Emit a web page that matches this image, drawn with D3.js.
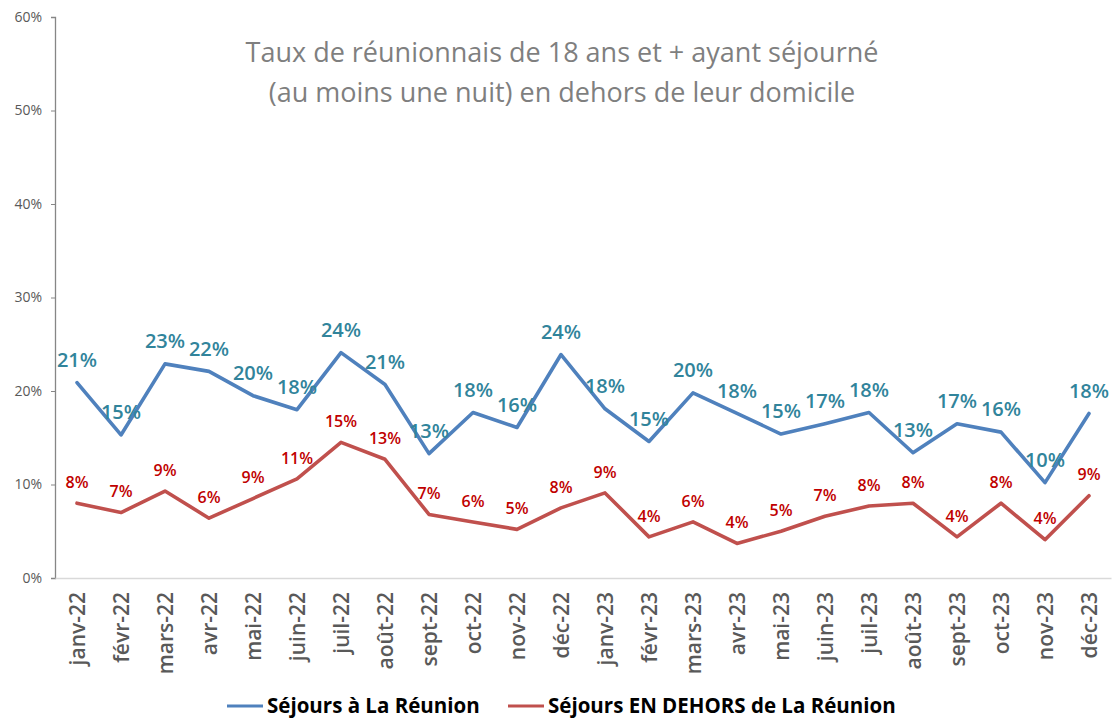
<!DOCTYPE html>
<html><head><meta charset="utf-8">
<script src="https://cdn.jsdelivr.net/npm/d3@7"></script>
<style>body{margin:0;background:#fff}svg{display:block}</style>
</head><body>
<svg id="c" width="1112" height="718"></svg>
<script>
const months = ["janv-22","févr-22","mars-22","avr-22","mai-22","juin-22","juil-22","août-22","sept-22","oct-22","nov-22","déc-22",
  "janv-23","févr-23","mars-23","avr-23","mai-23","juin-23","juil-23","août-23","sept-23","oct-23","nov-23","déc-23"];
const reunion = [20.9,15.3,22.9,22.1,19.5,18.0,24.1,20.7,13.3,17.7,16.1,23.9,18.1,14.6,19.8,17.6,15.4,16.5,17.7,13.4,16.5,15.6,10.2,17.6];
const dehors  = [8.0,7.0,9.3,6.4,8.5,10.6,14.5,12.7,6.8,6.0,5.2,7.5,9.1,4.4,6.0,3.7,5.0,6.6,7.7,8.0,4.4,8.0,4.1,8.8];
const yTicks = [0,10,20,30,40,50,60];
const titleLines = ["Taux de réunionnais de 18 ans et + ayant séjourné","(au moins une nuit) en dehors de leur domicile"];
const seriesNames = ["Séjours à La Réunion","Séjours EN DEHORS de La Réunion"];

const svg = d3.select("#c");
const font = "'Open Sans', sans-serif";
const x = d3.scalePoint().domain(months).range([55,1111]).padding(0.5);
const y = d3.scaleLinear().domain([0,60]).range([578,17]);

// title
svg.append("g").selectAll("text").data(titleLines).join("text")
  .attr("x",562).attr("y",(d,i)=>52+i*40).attr("dy","0.36em").attr("text-anchor","middle")
  .attr("font-family",font).attr("font-size",27).attr("fill","#7f7f7f").text(d=>d);

// y axis
const ya = svg.append("g").attr("transform","translate(55,0)")
  .call(d3.axisLeft(y).tickValues(yTicks).tickFormat(d=>d+"%").tickSize(4).tickPadding(9));
ya.select(".domain").attr("stroke","#868686").attr("stroke-width",1.3);
ya.selectAll(".tick line").attr("stroke","#868686");
ya.selectAll("text").attr("font-family",font).attr("font-size",14).attr("fill","#595959");

// x axis
const xa = svg.append("g").attr("transform","translate(0,578)")
  .call(d3.axisBottom(x).tickSize(0).tickPadding(0));
xa.select(".domain").attr("stroke","#d9d9d9").attr("stroke-width",1.3);
xa.selectAll("text").attr("font-family",font).attr("font-size",21).attr("font-weight",600).attr("fill","#595959")
  .attr("text-anchor","end").attr("dy","0.36em")
  .attr("transform","translate(0,14) rotate(-90)");

const series = [
  {vals: reunion, color:"#4F81BD", label:"#31849B", fs:20, off:-23},
  {vals: dehors, color:"#C0504D", label:"#C00000", fs:16, off:-21}
];
const line = d3.line().x((d,i)=>x(months[i])).y(d=>y(d));
series.forEach(s=>{
  svg.append("path").datum(s.vals).attr("d",line).attr("fill","none")
    .attr("stroke",s.color).attr("stroke-width",3.6).attr("stroke-linejoin","round").attr("stroke-linecap","round");
  svg.append("g").selectAll("text").data(s.vals).join("text")
    .attr("x",(d,i)=>x(months[i])).attr("y",d=>y(d)+s.off).attr("dy","0.36em")
    .attr("text-anchor","middle").attr("font-family",font).attr("font-size",s.fs).attr("font-weight",600)
    .attr("fill",s.label).text(d=>Math.round(d)+"%");
});

// legend
const leg = [{x:227,c:"#4F81BD"},{x:508,c:"#C0504D"}];
leg.forEach((l,i)=>{
  svg.append("line").attr("x1",l.x).attr("x2",l.x+36).attr("y1",706).attr("y2",706).attr("stroke",l.c).attr("stroke-width",3);
  svg.append("text").attr("x",l.x+40).attr("y",706).attr("dy","0.36em").attr("font-family",font)
    .attr("font-size",20.5).attr("font-weight","bold").attr("fill","#000").text(seriesNames[i]);
});
</script>
</body></html>
